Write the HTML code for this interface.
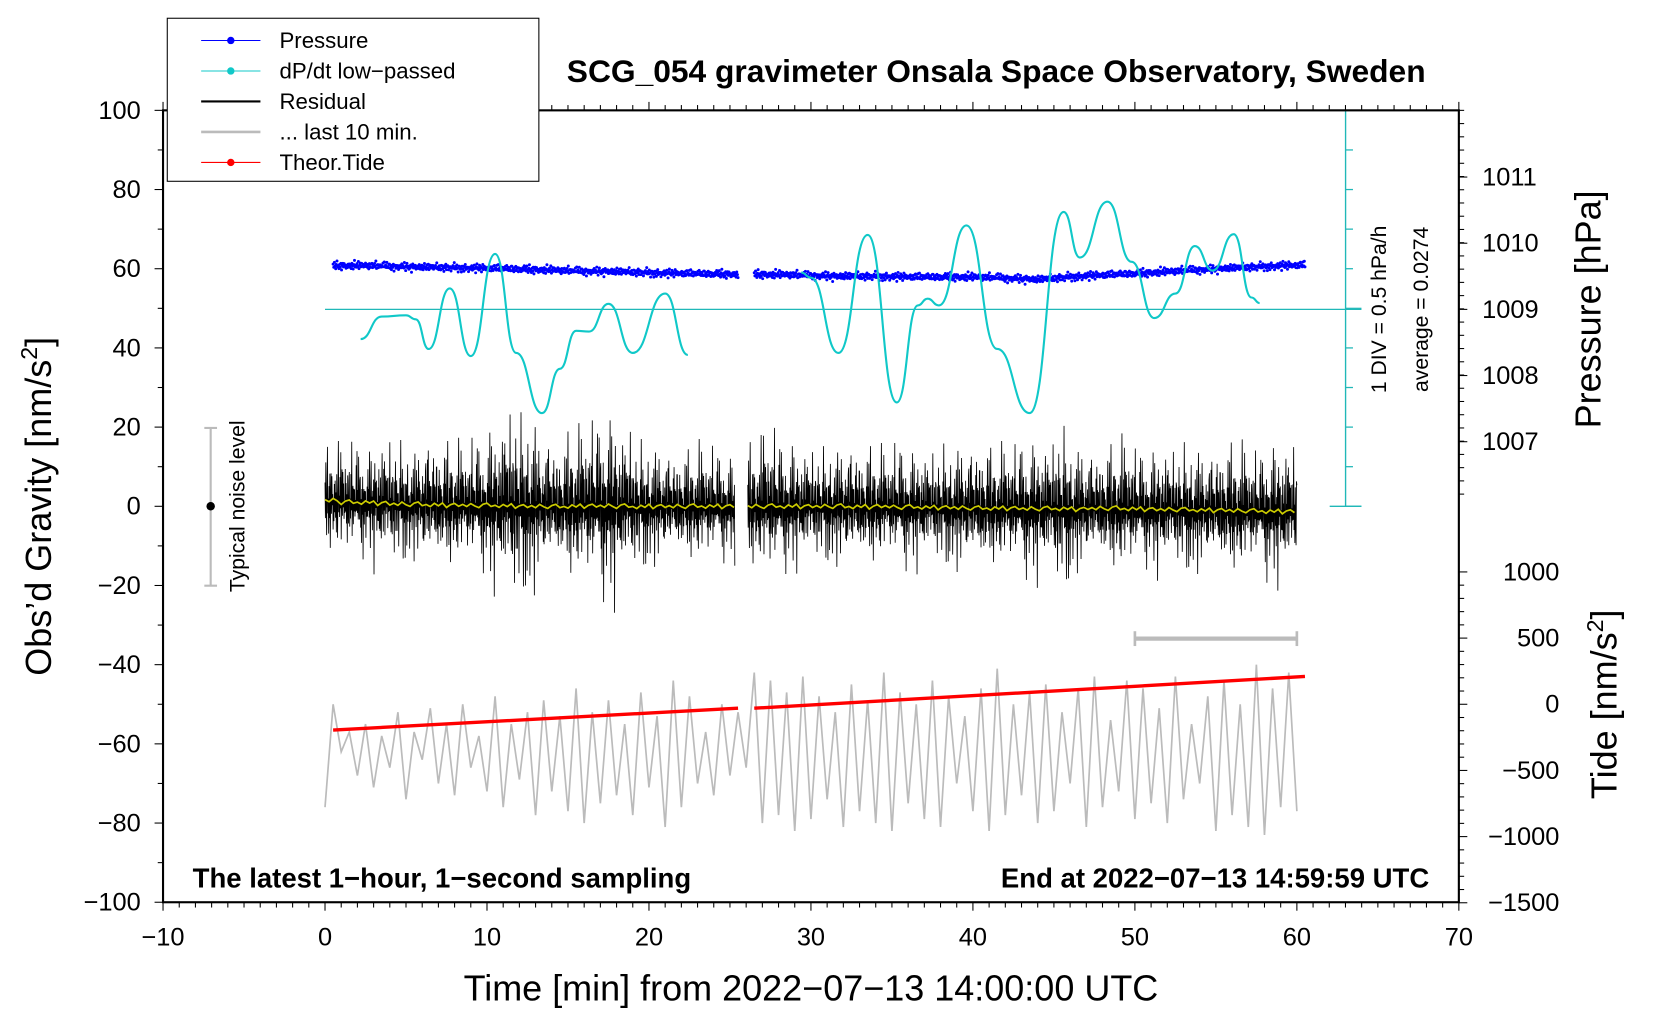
<!DOCTYPE html>
<html><head><meta charset="utf-8"><style>
html,body{margin:0;padding:0;background:#fff}
svg{display:block;font-family:"Liberation Sans",Arial,sans-serif}
</style></head><body>
<svg id="c" width="1660" height="1020" viewBox="0 0 1568 963" xmlns="http://www.w3.org/2000/svg"></svg>
<script>
// ---- data ----
const xTicks=[-10,0,10,20,30,40,50,60,70];
const yTicks=[100,80,60,40,20,0,-20,-40,-60,-80,-100];
const pTicks=[1011,1010,1009,1008,1007];
const tideTicks=[1000,500,0,-500,-1000,-1500];
// pressure (hPa), every 2.5 min from t=0.5
const presT1=[0.5,3,5.5,8,10.5,13,15.5,18,20.5,23,25.5];
const presV1=[1009.66,1009.66,1009.64,1009.63,1009.62,1009.6,1009.58,1009.57,1009.55,1009.54,1009.53];
const presT2=[26.5,29,31.5,34,36.5,39,41.5,44,46.5,49,51.5,54,56.5,59,60.5];
const presV2=[1009.53,1009.52,1009.5,1009.5,1009.49,1009.49,1009.48,1009.45,1009.5,1009.53,1009.56,1009.6,1009.63,1009.66,1009.67];
// dP/dt low-passed in DIV units (1 DIV = 0.5 hPa/h)
const dpT1=[2.2,3.5,5,5.6,6.4,7.7,9,10.5,11.8,13.4,14.5,15.5,16.3,17.5,19,21,22.4];
const dpV1=[-0.75,-0.18,-0.15,-0.25,-1.0,0.53,-1.18,1.4,-1.1,-2.62,-1.5,-0.54,-0.56,0.14,-1.1,0.4,-1.15];
const dpT2=[29.4,30,31.7,33.5,35.3,36.6,37.2,37.9,39.6,41.5,43.5,45.6,46.6,48.3,49.8,51.2,52.5,53.7,54.8,56.1,57.2,57.7];
const dpV2=[0.93,0.8,-1.1,1.88,-2.35,0.1,0.27,0.1,2.12,-1.0,-2.62,2.46,1.31,2.72,1.2,-0.22,0.4,1.6,0.98,1.9,0.3,0.16];
// residual envelope amplitude (nm/s2) per minute 0..60
const resAmp=[15,17,16,18,17,16,19,18,17,19,23,27,25,20,19,21,24,27,22,18,17,16,16,17,16,15,18,22,19,17,16,17,18,17,16,18,17,16,17,18,19,17,18,20,19,22,18,17,18,19,17,18,17,18,17,19,18,17,20,19,20];
const resMean=[1.5,1,1,0.8,0.6,0.5,0.4,0.3,0.3,0.2,0.2,0.1,0,0,-0.1,0,0.1,0.1,0,-0.1,0,0,0,0,0,0,0,0,0,0,0,0,-0.1,-0.1,0,-0.2,-0.2,-0.3,-0.3,-0.4,-0.5,-0.5,-0.5,-0.6,-0.6,-0.6,-0.7,-0.5,-0.5,-0.6,-0.7,-0.8,-0.8,-0.9,-1,-1,-1.1,-1.2,-1.3,-1.3,-1.4];
const resPattern=[0.3,-0.6,0.8,-0.2,-0.9,0.5,1.0,-0.4,0.1,-0.8,0.6,-0.3,0.9,-1.0,0.2,0.7,-0.5,0.45,-0.15,0.35,-0.7,0.05,-0.35,0.55,-0.25,0.95,-0.45];
const resScale=[1,0.5,0.8,0.35,0.65,0.45,0.9,0.55,0.3,0.7,0.4];
// last 10 min residual (gray), value every 0.5 min from t=0
const grayV=[-76,-50,-62,-57,-68,-55,-71,-58,-66,-52,-74,-57,-64,-51,-70,-55,-73,-50,-66,-58,-72,-48,-76,-55,-69,-52,-78,-49,-72,-53,-77,-46,-80,-52,-75,-49,-73,-55,-78,-47,-71,-53,-81,-44,-76,-48,-70,-57,-73,-50,-68,-52,-66,-42,-80,-44,-78,-47,-82,-43,-79,-48,-74,-52,-81,-45,-77,-49,-80,-42,-82,-47,-75,-50,-79,-44,-81,-48,-70,-53,-77,-46,-82,-41,-78,-50,-73,-47,-80,-45,-77,-52,-70,-46,-81,-43,-76,-54,-72,-44,-79,-46,-75,-51,-80,-43,-74,-55,-70,-48,-82,-44,-78,-50,-81,-40,-83,-46,-76,-42,-77];
// theoretical tide (nm/s2)
const tideT1=[0.5,25.5], tideV1=[-195,-30];
const tideT2=[26.5,60.5], tideV2=[-30,210];
// ---- axes ----
const X=t=>307+t*15.3;
const Y=v=>478-v*3.74;
const PY=p=>292-(p-1009)*62.5;
const TY=v=>665-v*0.125;
const DY=d=>292-d*37.4;
const svg=document.getElementById('c');
const NS='http://www.w3.org/2000/svg';
function el(tag,attrs,parent,text){const e=document.createElementNS(NS,tag);for(const k in attrs)e.setAttribute(k,attrs[k]);if(text!==undefined)e.textContent=text;(parent||svg).appendChild(e);return e;}
function line(x1,y1,x2,y2,st,w){return el('line',{x1,y1,x2,y2,stroke:st,'stroke-width':w||1});}
function interp(ts,vs,t){if(t<=ts[0])return vs[0];for(let i=1;i<ts.length;i++){if(t<=ts[i]){const f=(t-ts[i-1])/(ts[i]-ts[i-1]);return vs[i-1]+f*(vs[i]-vs[i-1]);}}return vs[vs.length-1];}
function smoothPath(ts,vs,yf){let d='';for(let i=0;i<ts.length;i++){const x=X(ts[i]),y=yf(vs[i]);if(i==0){d+='M'+x+' '+y;continue;}const x0=X(ts[i-1]),y0=yf(vs[i-1]);const xm=(x0+x)/2;d+=' C'+xm+' '+y0+' '+xm+' '+y+' '+x+' '+y;}return d;}

let gd='';grayV.forEach((v,i)=>{gd+=(i?'L':'M')+X(i*0.5)+' '+Y(v);});
const gp=el('path',{d:gd,fill:'none',stroke:'#bbb','stroke-width':1.6});


function residual(t0,t1){let d='';let k=0;for(let t=t0;t<=t1;t+=1/40){const m=Math.floor(t);const a=resAmp[m];const mu=resMean[m];const v=mu+a*resPattern[k%resPattern.length]*resScale[k%resScale.length];d+=(k?'L':'M')+X(t).toFixed(2)+' '+Y(v).toFixed(2);k++;}
const p=el('path',{d,fill:'none',stroke:'#000','stroke-width':0.8});

let md='';let j=0;for(let t=t0;t<=t1;t+=0.25){const m=Math.floor(t);md+=(j?'L':'M')+X(t)+' '+Y(resMean[m]+resPattern[j%17]*0.6);j++;}
const y=el('path',{d:md,fill:'none',stroke:'#cccc00','stroke-width':1.6});
}
residual(0,25.3);residual(26.1,60);

[[tideT1,tideV1],[tideT2,tideV2]].forEach(([ts,vs])=>{const p=el('line',{x1:X(ts[0]),y1:TY(vs[0]),x2:X(ts[1]),y2:TY(vs[1]),stroke:'#f00','stroke-width':3.2});
});

const pg=el('g',{fill:'#0000ff'});
[[presT1,presV1],[presT2,presV2]].forEach(([ts,vs])=>{let k=0;for(let t=ts[0];t<=ts[ts.length-1];t+=0.04){const v=interp(ts,vs,t)+resPattern[k%resPattern.length]*0.05*resScale[k%resScale.length]*1.6;el('circle',{cx:X(t),cy:PY(v),r:1.4},pg);k++;}});

line(307,292,1286,292,'#20b8b8',1.2);
line(1271,104,1271,478,'#20b8b8',1.3);
for(let i=0;i<=10;i++){const y=104+i*37.4;line(1271,y,1271+(i==0||i==10||i==5?15:7),y,'#20b8b8',1.2);if(i==0||i==10)line(1256,y,1286,y,'#20b8b8',1.3);}
[[dpT1,dpV1],[dpT2,dpV2]].forEach(([ts,vs])=>{const p=el('path',{d:smoothPath(ts,vs,DY),fill:'none',stroke:'#10c8c8','stroke-width':2});
});

el('rect',{x:154,y:104,width:1224,height:748,fill:'none',stroke:'#000','stroke-width':2});
for(let t=-10;t<=70;t++){const x=X(t);const L=(t%10==0)?8:5;line(x,852,x,852+L,'#000',1);line(x,104,x,104-L,'#000',1);}
xTicks.forEach(t=>{const tx=el('text',{x:X(t),y:893,'font-size':24,'text-anchor':'middle'},svg,t<0?'\u2212'+(-t):t);});
for(let v=-100;v<=100;v+=10){const y=Y(v);line(154,y,154-(v%20==0?8:5),y,'#000',1);}
yTicks.forEach(v=>{const tx=el('text',{x:133,y:Y(v)+8,'font-size':24,'text-anchor':'end'},svg,v<0?'\u2212'+(-v):v);});
for(let y=104;y<=478;y+=12.5){line(1378,y,1378+5,y,'#000',1);}
pTicks.forEach(p=>{line(1378,PY(p),1386,PY(p),'#000',1);const tx=el('text',{x:1400,y:PY(p)+8,'font-size':24},svg,p);});
for(let v=-1500;v<=1000;v+=100){line(1378,TY(v),1378+(v%500==0?8:5),TY(v),'#000',1);}
tideTicks.forEach(v=>{const tx=el('text',{x:1473,y:TY(v)+8,'font-size':24,'text-anchor':'end'},svg,v<0?'\u2212'+(-v):v);});

line(199,404,199,553,'#bbb',2);line(193,404,205,404,'#bbb',2);line(193,553,205,553,'#bbb',2);
el('circle',{cx:199,cy:478,r:4,fill:'#000'});
line(1072,603,1225,603,'#bbb',4);line(1072,596,1072,610,'#bbb',2.5);line(1225,596,1225,610,'#bbb',2.5);
</script>
<script>
(function(){const svg=document.getElementById('c');const NS='http://www.w3.org/2000/svg';
function t(txt,attrs,name){const e=document.createElementNS(NS,'text');for(const k in attrs)e.setAttribute(k,attrs[k]);e.innerHTML=txt;svg.appendChild(e);return e;}
t('Typical noise level',{x:0,y:0,'font-size':20,'text-anchor':'middle',transform:'translate(231,478) rotate(-90)'},'noise-level-label');
t('1 DIV = 0.5 hPa/h',{x:0,y:0,'font-size':20,'text-anchor':'middle',transform:'translate(1309,292) rotate(-90)'},'div-label');
t('average = 0.0274',{x:0,y:0,'font-size':20,'text-anchor':'middle',transform:'translate(1349,292) rotate(-90)'},'average-label');
t('SCG_054 gravimeter Onsala Space Observatory, Sweden',{x:941,y:77,'font-size':30,'font-weight':'bold','text-anchor':'middle'},'chart-title');
t('The latest 1\u2212hour, 1\u2212second sampling',{x:182,y:838,'font-size':26,'font-weight':'bold'},'sampling-note');
t('End at 2022\u221207\u221213 14:59:59 UTC',{x:1350,y:838,'font-size':26,'font-weight':'bold','text-anchor':'end'},'end-time-note');
t('Time [min] from 2022\u221207\u221213 14:00:00 UTC',{x:766,y:945,'font-size':34,'text-anchor':'middle'},'x-axis-title');
t('Obs\u2019d Gravity [nm/s<tspan dy="-13" font-size="22">2</tspan><tspan dy="13">]</tspan>',{x:0,y:0,'font-size':34,'text-anchor':'middle',transform:'translate(48,478) rotate(-90)'},'y-axis-title');
t('Pressure [hPa]',{x:0,y:0,'font-size':34,'text-anchor':'middle',transform:'translate(1512,292) rotate(-90)'},'pressure-axis-title');
t('Tide [nm/s<tspan dy="-13" font-size="22">2</tspan><tspan dy="13">]</tspan>',{x:0,y:0,'font-size':34,'text-anchor':'middle',transform:'translate(1527,665) rotate(-90)'},'tide-axis-title');
const g=document.createElementNS(NS,'g');svg.appendChild(g);
const r=document.createElementNS(NS,'rect');[['x',158],['y',17],['width',351],['height',154],['fill','#fff'],['stroke','#000'],['stroke-width',1]].forEach(a=>r.setAttribute(a[0],a[1]));g.appendChild(r);
const items=[['Pressure','#0000ff',1,true],['dP/dt low\u2212passed','#10c8c8',1,true],['Residual','#000',2,false],['... last 10 min.','#bbb',2.5,false],['Theor.Tide','#f00',1,true]];
items.forEach((it,i)=>{const y=38+i*28.8;const row=document.createElementNS(NS,'g');g.appendChild(row);
const l=document.createElementNS(NS,'line');[['x1',190],['x2',246],['y1',y],['y2',y],['stroke',it[1]],['stroke-width',it[2]]].forEach(a=>l.setAttribute(a[0],a[1]));row.appendChild(l);
if(it[3]){const c=document.createElementNS(NS,'circle');[['cx',218],['cy',y],['r',3.5],['fill',it[1]]].forEach(a=>c.setAttribute(a[0],a[1]));row.appendChild(c);}
const tx=document.createElementNS(NS,'text');[['x',264],['y',y+7],['font-size',21]].forEach(a=>tx.setAttribute(a[0],a[1]));tx.textContent=it[0];row.appendChild(tx);});
})();
</script>
</body></html>
